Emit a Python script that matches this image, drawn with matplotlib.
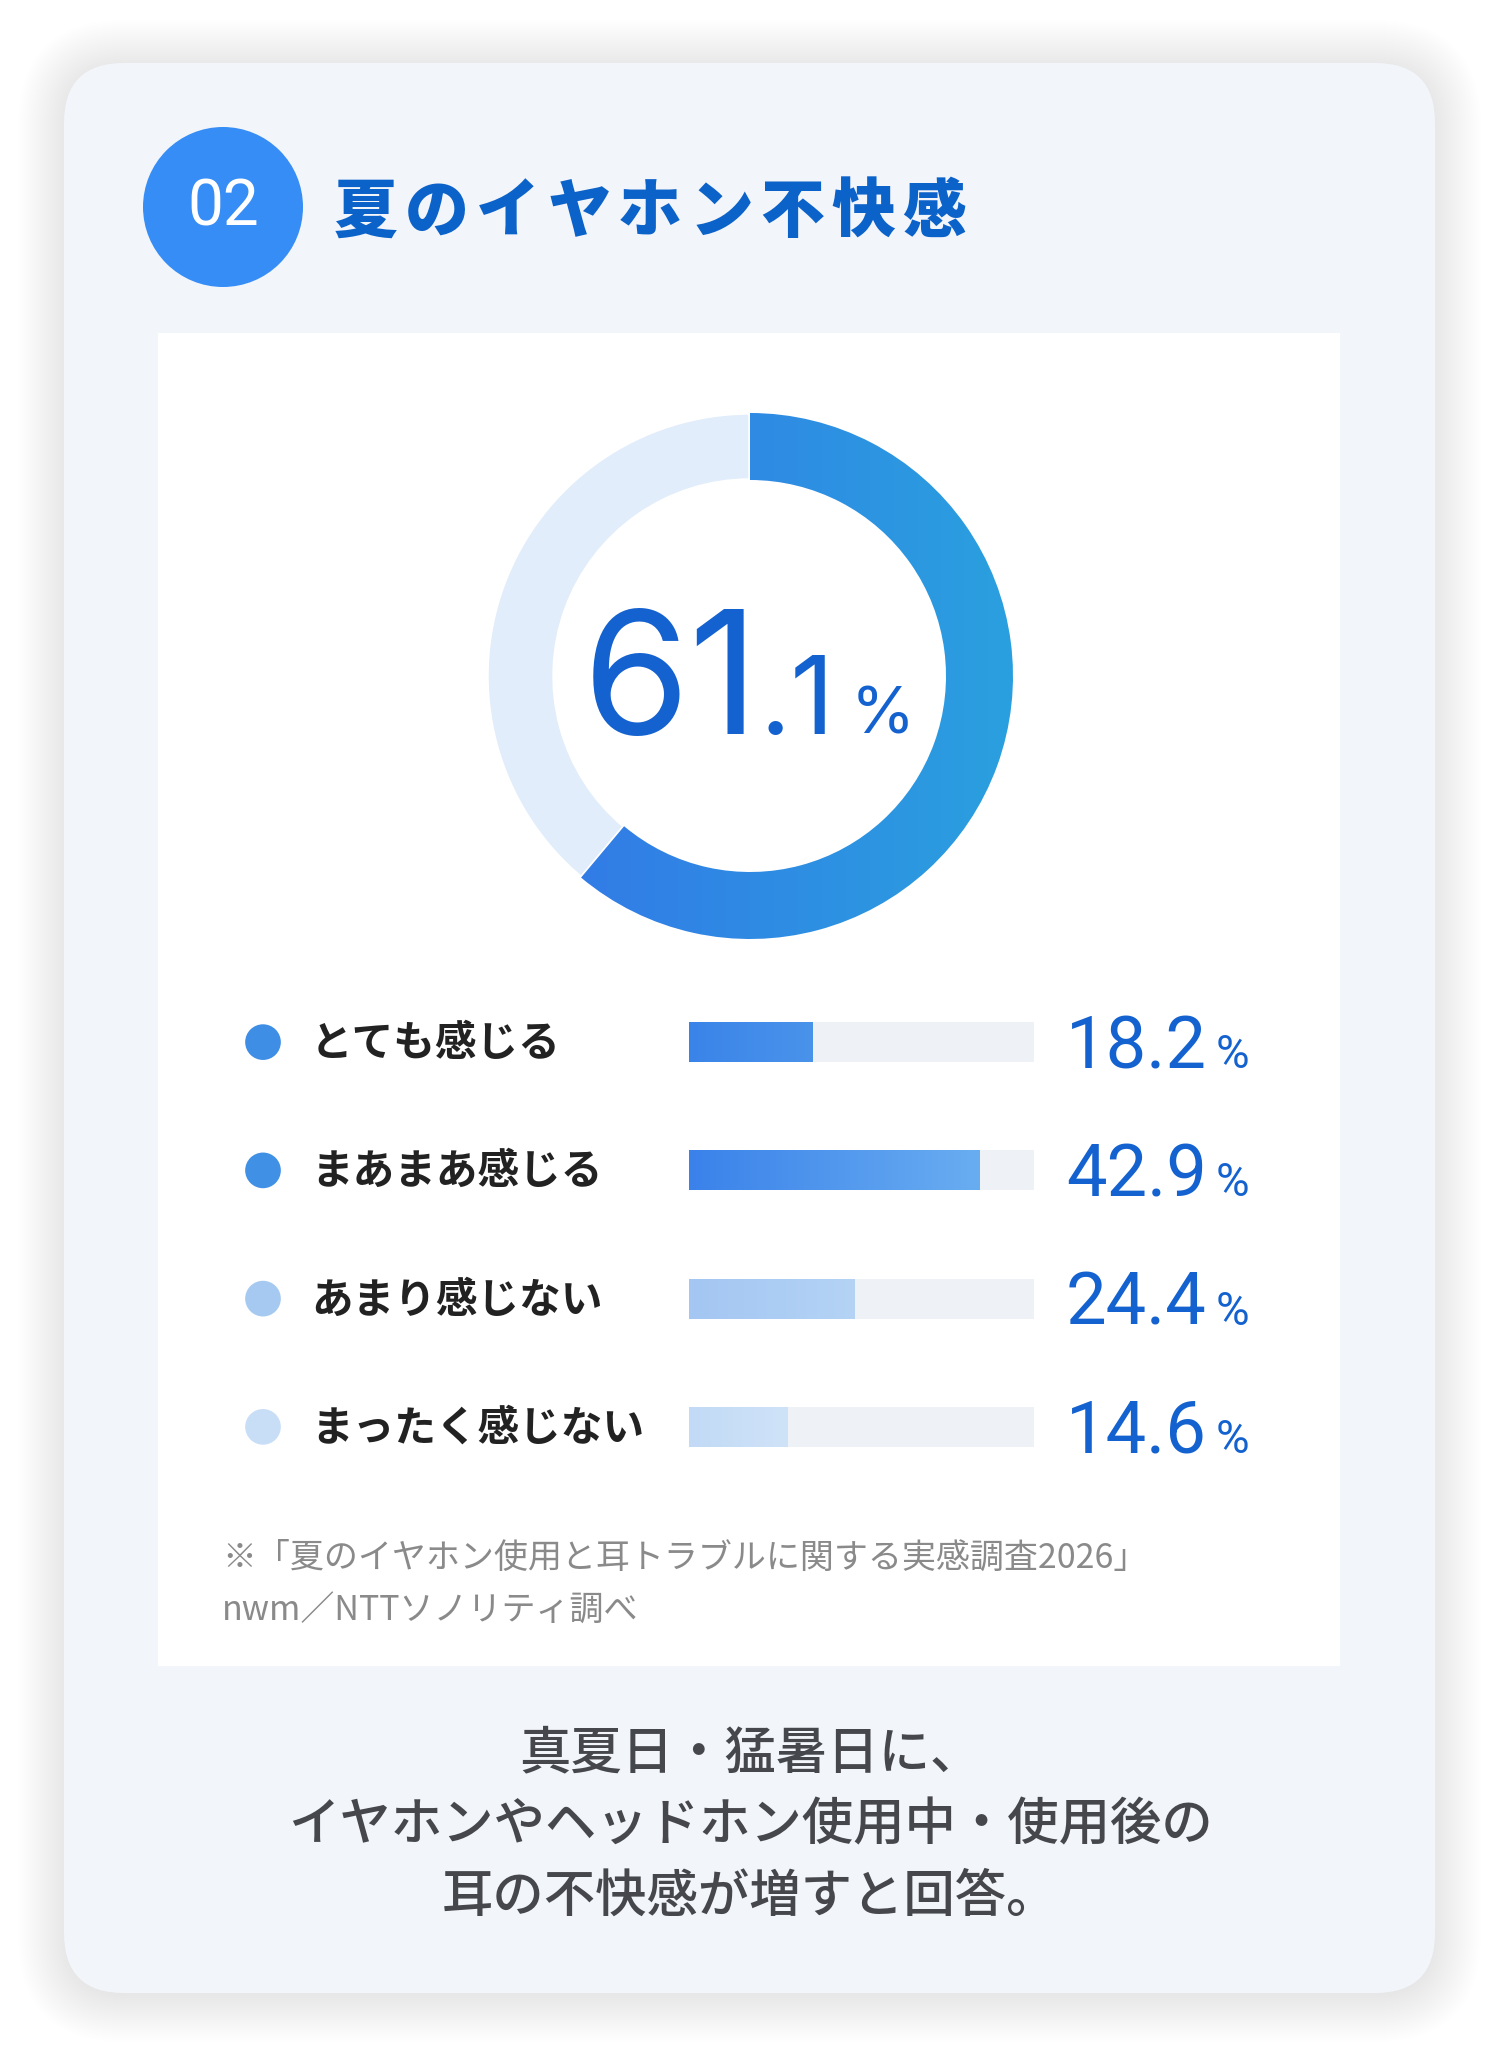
import matplotlib
matplotlib.use("Agg")
import matplotlib.pyplot as plt
import numpy as np
from matplotlib.patches import FancyBboxPatch, Rectangle, Circle
from matplotlib.colors import LinearSegmentedColormap
from matplotlib.textpath import TextPath
from matplotlib.font_manager import FontProperties

# ---------------- data ----------------
title_badge = "02"
title = "夏のイヤホン不快感"
total_label = "61.1"
donut_values = [61.1, 38.9]
categories = ["とても感じる", "まあまあ感じる", "あまり感じない", "まったく感じない"]
values = [18.2, 42.9, 24.4, 14.6]
value_labels = ["18.2", "42.9", "24.4", "14.6"]
footnote = ["※「夏のイヤホン使用と耳トラブルに関する実感調査2026」", "nwm／NTTソノリティ調べ"]
summary = ["真夏日・猛暑日に、", "イヤホンやヘッドホン使用中・使用後の", "耳の不快感が増すと回答。"]

# ---------------- style ----------------
JP = ["Noto Sans CJK JP", "DejaVu Sans"]
NUM = ["Roboto", "DejaVu Sans"]
BIG = ["Inter", "Roboto", "DejaVu Sans"]
plt.rcParams['font.family'] = JP
W, H = 1500, 2058
blue_text = "#1462cf"
dot_colors = ["#3f8ee6", "#4090e6", "#a6c9f2", "#c8def7"]
bar_grad = [("#3a84e9", "#4a93eb"), ("#3a82ea", "#69adf1"), ("#a3c6f2", "#b4d3f5"), ("#c2daf6", "#cfe3f8")]
track_color = "#eef1f6"

fig = plt.figure(figsize=(W / 100, H / 100), dpi=100)
fig.patch.set_facecolor("white")
bg = fig.add_axes([0, 0, 1, 1])
bg.set_xlim(0, W)
bg.set_ylim(H, 0)
bg.axis("off")

# card shadow
for k in range(24):
    pad = k * 2.0
    bg.add_patch(FancyBboxPatch((64 - pad, 66 - pad), 1371 + 2 * pad, 1930 + 2 * pad,
                                boxstyle=f"round,pad=0,rounding_size={60 + pad}",
                                facecolor="#6a6a6a", edgecolor="none", alpha=0.005, zorder=1))
bg.add_patch(FancyBboxPatch((64, 63), 1371, 1930, boxstyle="round,pad=0,rounding_size=60",
                            facecolor="#f2f5fa", edgecolor="none", zorder=2))
# white panel
bg.add_patch(Rectangle((158, 333), 1182, 1333, facecolor="white", edgecolor="none", zorder=3))

# badge + title
bg.add_patch(Circle((223, 207), 80, facecolor="#368df5", edgecolor="none", zorder=4))
bg.text(223, 207, title_badge, ha="center", va="center", fontsize=46, color="white",
        family=NUM, zorder=5)
for i, ch in enumerate(title):
    bg.text(366 + 71 * i, 213, ch, ha="center", va="center", fontsize=46, fontweight="heavy",
            color="#0b62c9", zorder=5)

# ---------------- donut ----------------
cx, cy, R = 750, 676, 263
dax = fig.add_axes([(cx - R) / W, (H - cy - R) / H, 2 * R / W, 2 * R / H])
wedges, _ = dax.pie(donut_values, startangle=90, counterclock=False,
                    colors=["#2f88e4", "#e1edfa"],
                    wedgeprops=dict(width=(263 - 196) / 263, edgecolor="white", linewidth=2.5))
grad = np.linspace(0, 1, 256).reshape(1, -1)
cmap = LinearSegmentedColormap.from_list("d", ["#3474e8", "#2aa0df"])
im = dax.imshow(grad, extent=(-1, 1, -1, 1), cmap=cmap, aspect="auto", zorder=3)
im.set_clip_path(wedges[0])
dax.set_xlim(-1, 1)
dax.set_ylim(-1, 1)
dax.set_aspect("equal")
dax.axis("off")

renderer = fig.canvas.get_renderer()

# center label: "61" + ".1" + "%", laid out side by side and centred by ink
big, frac = total_label.split(".")
parts = [(big, 124), ("." + frac, 78), ("%", 47)]
gaps = [0, 16]
texts, widths = [], []
for s, sz in parts:
    t = bg.text(0, 734, s, ha="left", va="baseline", fontsize=sz, family=BIG,
                color=blue_text, zorder=6)
    texts.append(t)
    widths.append(t.get_window_extent(renderer).width)
fpb = FontProperties(family=BIG)
ink_l = TextPath((0, 0), parts[0][0], size=parts[0][1] * 100 / 72, prop=fpb).get_extents().x0
last = TextPath((0, 0), parts[2][0], size=parts[2][1] * 100 / 72, prop=fpb).get_extents()
total_adv = widths[0] + gaps[0] + widths[1] + gaps[1]
ink_w = total_adv + last.x1 - ink_l
x = cx - ink_w / 2 - ink_l
for t, w, g in zip(texts, widths, gaps + [0]):
    t.set_x(x)
    x += w + g

# ---------------- bars ----------------
bx0, bx1 = 689, 1034
row_top, row_bot = 978, 1491
bax = fig.add_axes([bx0 / W, (H - row_bot) / H, (bx1 - bx0) / W, (row_bot - row_top) / H])
n = len(values)
xmax = 51
ypos = np.arange(n)
bh = 40 / ((row_bot - row_top) / n)
bax.barh(ypos, [xmax] * n, height=bh, color=track_color, zorder=1)
bars = bax.barh(ypos, values, height=bh, color=[c[0] for c in bar_grad], zorder=2)
for b, (c1, c2) in zip(bars, bar_grad):
    cm = LinearSegmentedColormap.from_list("b", [c1, c2])
    gi = bax.imshow(grad, extent=(b.get_x(), b.get_x() + b.get_width(),
                                  b.get_y(), b.get_y() + b.get_height()),
                    cmap=cm, aspect="auto", zorder=3)
    gi.set_clip_path(b)
bax.set_xlim(0, xmax)
bax.set_ylim(n - 0.5, -0.5)
bax.axis("off")

inv = bg.transData.inverted()
for i in range(n):
    _, ypix = inv.transform(bax.transData.transform((0, i)))
    bg.scatter([263], [ypix], s=660, color=dot_colors[i], edgecolors="none", zorder=6)
    bg.text(311, ypix + 2, categories[i], ha="left", va="center", fontsize=30,
            fontweight="bold", color="#222222", zorder=6)
    tn = bg.text(1066, ypix + 26, value_labels[i], ha="left", va="baseline", fontsize=52,
                 family=NUM, color=blue_text, zorder=6)
    wn = tn.get_window_extent(renderer).width
    bg.text(1066 + wn + 9, ypix + 26, "%", ha="left", va="baseline", fontsize=33,
            family=NUM, color=blue_text, zorder=6)

# footnote
bg.text(222, 1558, footnote[0], ha="left", va="center", fontsize=24.5, color="#8a8a8a", zorder=6)
bg.text(222, 1611, footnote[1], ha="left", va="center", fontsize=24.5, color="#8a8a8a", zorder=6)

# summary
for i, line in enumerate(summary):
    bg.text(750, 1753 + 72 * i, line, ha="center", va="center", fontsize=37,
            fontweight="medium", color="#45474d", zorder=6)

fig.savefig("out.png", dpi=100, facecolor="white")
